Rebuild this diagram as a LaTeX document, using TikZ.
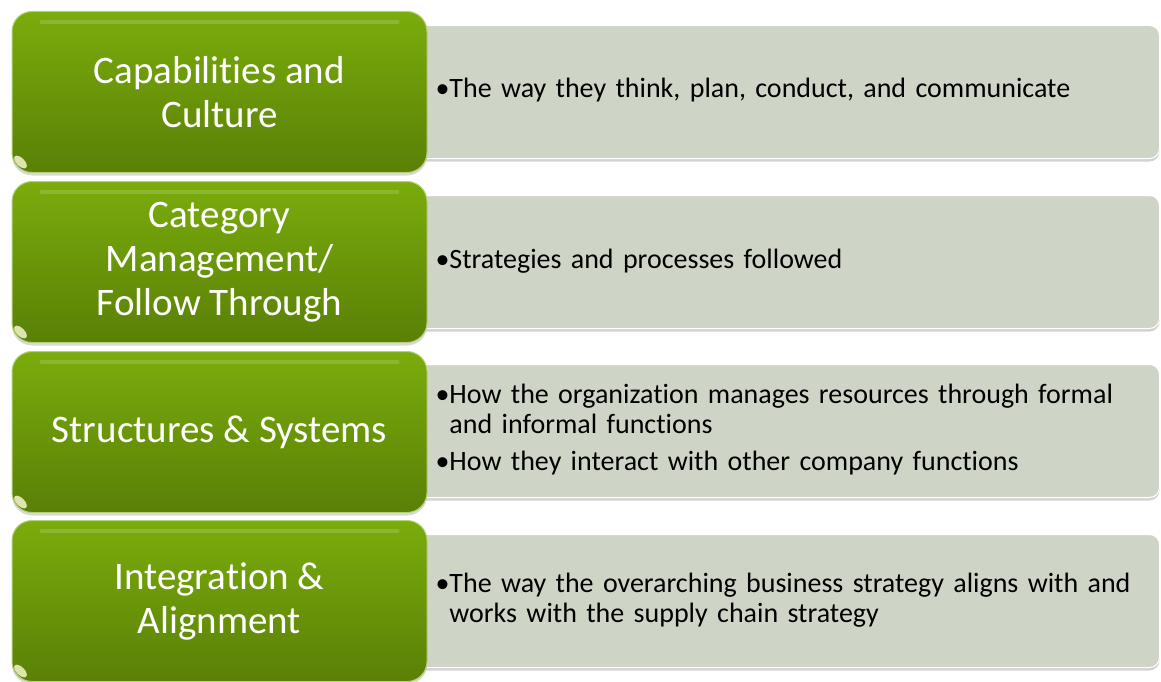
\documentclass[tikz,border=0pt]{standalone}
\usepackage{fontspec}
\setmainfont{Carlito}[Ligatures={NoCommon,NoRare}]
\usetikzlibrary{shadows}
\definecolor{leafTop}{RGB}{122,172,12}
\definecolor{leafBot}{RGB}{90,128,6}
\definecolor{sage}{RGB}{207,213,198}
\newcommand{\bul}{\textbullet}

\begin{document}
\begin{tikzpicture}[x=1pt,y=-1pt,
  catbox/.style={rounded corners=20pt, minimum width=415pt, minimum height=161pt,
    top color=leafTop, bottom color=leafBot, draw=leafTop!55!white, line width=1pt,
    text=white, align=center, font=\fontsize{39}{44}\selectfont,
    drop shadow={shadow xshift=0pt, shadow yshift=-3pt, opacity=.3}},
  notebox/.style={rounded corners=10pt, fill=sage, draw=white, line width=1pt,
    anchor=west, minimum height=133pt, inner xsep=20pt, text width=704pt,
    align=left, font=\fontsize{28}{30}\selectfont,
    drop shadow={shadow xshift=0pt, shadow yshift=-3pt, opacity=.35}}]
\useasboundingbox (0,0) rectangle (1161,682);
%notes behind
\node[notebox] (capnote) at (415, 92) {\begin{tabular}{@{}l@{}l@{}}
  \bul & The way they think, plan, conduct, and communicate\end{tabular}};
\node[notebox] (catnote) at (415,262) {\begin{tabular}{@{}l@{}l@{}}
  \bul & Strategies and processes followed\end{tabular}};
\node[notebox] (strnote) at (415,431) {\begin{tabular}{@{}l@{}l@{}}
  \bul & How the organization manages resources through formal\\
       & and informal functions\\[7pt]
  \bul & How they interact with other company functions\end{tabular}};
\node[notebox] (intnote) at (415,601) {\begin{tabular}{@{}l@{}l@{}}
  \bul & The way the overarching business strategy aligns with and\\
       & works with the supply chain strategy\end{tabular}};
%green categories
\node[catbox] (cap) at (219.5, 92) {Capabilities and\\Culture};
\node[catbox] (cat) at (219.5,262) {Category\\Management/\\Follow Through};
\node[catbox] (str) at (219.5,432) {Structures \& Systems};
\node[catbox] (int) at (219.5,601) {Integration \&\\Alignment};
%gloss
\foreach \n in {cap,cat,str,int}{
  \draw[white, opacity=.15, line width=4pt, line cap=round]
    ([xshift=30pt,yshift=-11pt]\n.north west) -- ([xshift=-30pt,yshift=-11pt]\n.north east);
  \fill[white!85!yellow, opacity=.8, shift={([xshift=9pt,yshift=11pt]\n.south west)}, rotate=-45]
    (0,0) ellipse [x radius=8pt, y radius=4pt];
}
\end{tikzpicture}
\end{document}
